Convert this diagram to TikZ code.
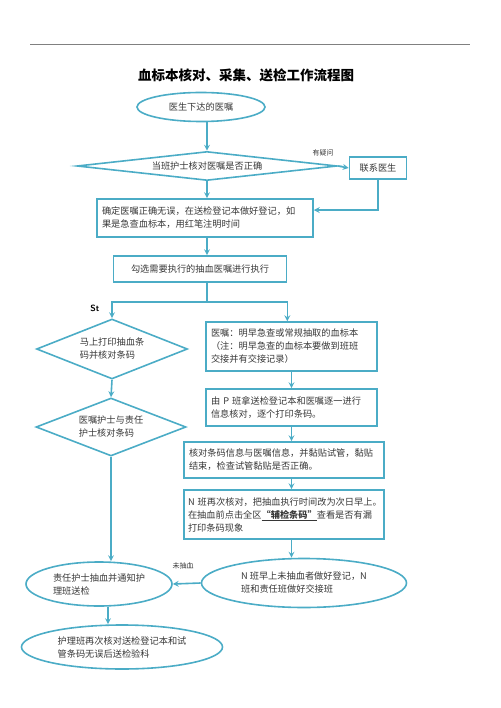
\documentclass[tikz,border=0pt]{standalone}
\usepackage{fontspec}
\setmainfont{Noto Sans CJK SC}
\usetikzlibrary{shapes.geometric,calc}

\definecolor{flowblue}{RGB}{75,172,198}
\definecolor{ink}{RGB}{55,55,55}
\newcommand{\flowfont}{\fontsize{9.2}{13}\selectfont}

\tikzstyle{box}  = [draw=flowblue, rectangle, line width=1.6pt, inner sep=5pt, text=ink, font=\flowfont]
\tikzstyle{dec}  = [draw=flowblue, diamond, line width=1.6pt, inner sep=1pt, text=ink, font=\flowfont]
\tikzstyle{oval} = [draw=flowblue, ellipse, line width=1.6pt, inner sep=1pt, text=ink, font=\flowfont, align=left]
\tikzstyle{note} = [text=ink, font=\fontsize{7}{8}\selectfont]
\tikzstyle{flow} = [-stealth, color=flowblue, line width=1.6pt]

\begin{document}
\begin{tikzpicture}[x=1pt,y=-1pt]
  \useasboundingbox (0,0) rectangle (500,708);
  \draw[gray, line width=1pt] (30,45) -- (470,45);
  \node at (246,75) (title) [text=black, font=\fontsize{13.5}{16}\selectfont\bfseries] {血标本核对、采集、送检工作流程图};

  % top part
  \node at (201,107) (doc) [oval, minimum width=128pt, minimum height=29pt] {医生下达的医嘱};
  \node at (207,166) (check) [dec, aspect=9, minimum width=260pt, minimum height=29pt] {当班护士核对医嘱是否正确};
  \node at (378,168) (contact) [box, minimum width=57pt, minimum height=22pt] {联系医生};
  \node at (205,218) (confirm) [box, text width=206pt, minimum height=38pt, align=left]
    {确定医嘱正确无误，在送检登记本做好登记，如\\果是急查血标本，用红笔注明时间};
  \node at (200,269) (select) [box, minimum width=173pt, minimum height=26pt] {勾选需要执行的抽血医嘱进行执行};
  \node at (323,153) (ask) [note] {有疑问};
  \node at (95,308) (st) [text=black, font=\sffamily\bfseries\small] {St};

  % left column
  \node at (112,349) (print)  [dec, aspect=2.5, minimum width=151pt, minimum height=60pt, align=left] {马上打印抽血条\\码并核对条码};
  \node at (111,427) (verify) [dec, aspect=2.5, minimum width=150pt, minimum height=58pt, align=left] {医嘱护士与责任\\护士核对条码};

  % right column
  \node at (291.5,346.5) (order) [box, text width=161pt, minimum height=49pt, align=left]
    {医嘱：明早急查或常规抽取的血标本\\（注：明早急查的血标本要做到班班\\交接并有交接记录）};
  \node at (291.5,407.5) (pbox) [box, text width=161pt, minimum height=37pt, align=left]
    {由~P~班拿送检登记本和医嘱逐一进行\\信息核对，逐个打印条码。};
  \node at (284,460) (stick) [box, text width=190pt, minimum height=36pt, align=left]
    {核对条码信息与医嘱信息，并黏贴试管，黏贴\\结束，检查试管黏贴是否正确。};
  \node at (284,514.5) (nshift) [box, text width=192pt, inner sep=4pt, minimum height=49pt, align=left]
    {N~班再次核对，把抽血执行时间改为次日早上。\\在抽血前点击全区\underline{\textbf{“辅检条码”}}查看是否有漏\\打印条码现象};

  % bottom
  \node at (304,583) (nextday) [oval, minimum width=205pt, minimum height=49pt] {N~班早上未抽血者做好登记，N\\班和责任班做好交接班};
  \node at (99,584) (drawL) [oval, minimum width=146pt, minimum height=44pt] {责任护士抽血并通知护\\理班送检};
  \node at (122,647) (final) [oval, minimum width=201pt, minimum height=44pt] {护理班再次核对送检登记本和试\\管条码无误后送检验科};
  \node at (183,566) (undrawn) [note] {未抽血};

  % connectors
  \path[flow] (check.north |- doc.south) edge (check.north)
              (check.south) edge (check.south |- confirm.north)
              (check.east) edge (contact.west)
              (check.south |- confirm.south) edge (check.south |- select.north);
  \draw[flow] (contact.south) |- ($(confirm.north east)!0.3!(confirm.south east)$);
  \draw[flowblue, line width=1.6pt] (check.south |- select.south) -- ++(0,19) coordinate (fork);
  \draw[flow] (fork) -| (print.north);
  \draw[flow] (fork) -| (order.north -| select.east);
  \path[flow] (print.south) edge (verify.north)
              (verify.south) edge (verify.south |- drawL.north)
              (order.south) edge (pbox.north)
              (pbox.south) edge (pbox.south |- stick.north)
              (pbox.south |- stick.south) edge (pbox.south |- nshift.north)
              (pbox.south |- nshift.south) edge (pbox.south |- nextday.north)
              (nextday.west) edge (drawL.east)
              ([xshift=9pt]drawL.south) edge ([xshift=9pt]drawL.south |- final.north);
\end{tikzpicture}
\end{document}
